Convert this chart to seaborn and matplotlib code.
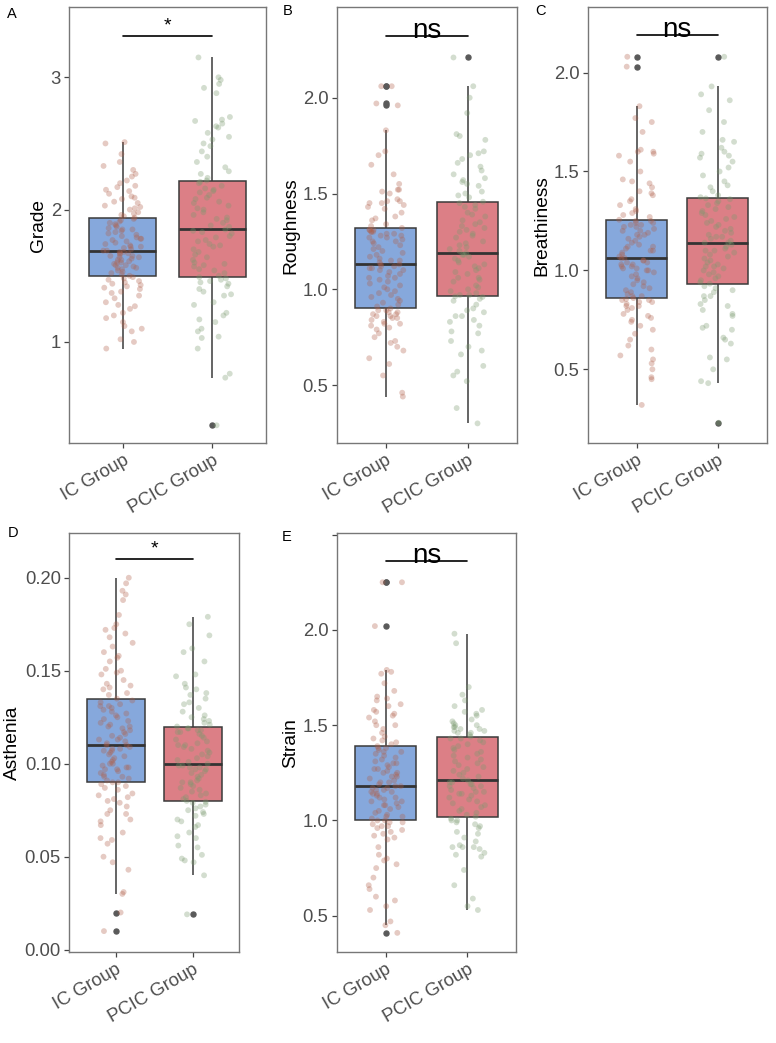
import numpy as np
import pandas as pd
import matplotlib
matplotlib.use("Agg")
import matplotlib.pyplot as plt
import seaborn as sns

# ---------------- data ----------------
groups = ["IC Group", "PCIC Group"]
metrics = ["Grade", "Roughness", "Breathiness", "Asthenia", "Strain"]
panel_letters = ["A", "B", "C", "D", "E"]
significance = ["*", "ns", "ns", "*", "ns"]
bracket_y = [3.312, 2.322, 2.19, 0.2099, 2.362]

grade_ic = [0.95, 1.00, 1.02, 1.08, 1.10, 1.12, 1.15, 1.18, 1.20, 1.22, 1.25, 1.27, 1.28, 1.30,
            1.33, 1.35, 1.37, 1.38, 1.40, 1.41, 1.42, 1.43, 1.44, 1.45, 1.46, 1.47, 1.48, 1.49,
            1.50,
            1.51, 1.52, 1.53, 1.54, 1.55, 1.56, 1.56, 1.57, 1.58, 1.58, 1.59, 1.60, 1.60, 1.61,
            1.62, 1.62, 1.63, 1.64, 1.64, 1.65, 1.65, 1.66, 1.67, 1.67, 1.68, 1.68, 1.69,
            1.69,
            1.70, 1.71, 1.72, 1.72, 1.73, 1.74, 1.75, 1.76, 1.77, 1.78, 1.78, 1.79, 1.80, 1.81,
            1.82, 1.83, 1.84, 1.85, 1.85, 1.86, 1.87, 1.88, 1.89, 1.90, 1.91, 1.92, 1.93,
            1.94,
            1.95, 1.96, 1.97, 1.98, 2.00, 2.01, 2.02, 2.03, 2.05, 2.06, 2.08, 2.09, 2.10, 2.12,
            2.14, 2.15, 2.17, 2.18, 2.20, 2.22, 2.25, 2.27, 2.30, 2.33, 2.36, 2.42, 2.50, 2.51]
grade_pcic = [0.37, 0.73, 0.76, 0.95, 1.03, 1.04, 1.08, 1.10, 1.15, 1.17, 1.20, 1.22, 1.28, 1.30,
              1.35, 1.36, 1.38, 1.40, 1.42, 1.44, 1.45, 1.46, 1.47, 1.48,
              1.49,
              1.50, 1.52, 1.54, 1.55, 1.57, 1.58, 1.59, 1.60, 1.62, 1.64, 1.66, 1.68, 1.70, 1.72,
              1.73, 1.74, 1.76, 1.77, 1.79, 1.80, 1.82, 1.83, 1.84,
              1.85,
              1.87, 1.88, 1.90, 1.92, 1.93, 1.94, 1.96, 1.98, 2.00, 2.01, 2.03, 2.05, 2.06, 2.08,
              2.09, 2.11, 2.13, 2.14, 2.15, 2.16, 2.18, 2.20, 2.21,
              2.22,
              2.24, 2.27, 2.29, 2.32, 2.36, 2.40, 2.44, 2.48, 2.50, 2.53, 2.55, 2.58, 2.62, 2.63,
              2.65, 2.67, 2.68, 2.70, 2.88, 2.92, 2.95, 2.98, 3.00, 3.15]

rough_ic = [0.44, 0.46, 0.55, 0.61, 0.64, 0.68, 0.70, 0.72, 0.73, 0.75, 0.77, 0.79, 0.80, 0.81,
            0.82, 0.82, 0.83, 0.84, 0.85, 0.85, 0.86, 0.86, 0.87, 0.87, 0.88, 0.88, 0.89, 0.89,
            0.90,
            0.91, 0.92, 0.93, 0.94, 0.95, 0.96, 0.97, 0.98, 0.99, 1.00, 1.01, 1.02, 1.03, 1.04,
            1.05, 1.06, 1.06, 1.07, 1.08, 1.09, 1.10, 1.10, 1.11, 1.11, 1.12, 1.12, 1.13,
            1.13,
            1.14, 1.15, 1.15, 1.16, 1.17, 1.18, 1.19, 1.20, 1.21, 1.22, 1.23, 1.24, 1.25, 1.25,
            1.26, 1.27, 1.27, 1.28, 1.28, 1.29, 1.29, 1.30, 1.30, 1.30, 1.31, 1.31, 1.31,
            1.32,
            1.33, 1.34, 1.36, 1.37, 1.38, 1.40, 1.42, 1.43, 1.44, 1.45, 1.45, 1.46, 1.46, 1.47,
            1.50, 1.51, 1.52, 1.52, 1.55, 1.60, 1.65, 1.70, 1.72, 1.83, 1.96, 1.97, 2.06, 2.06]
rough_pcic = [0.30, 0.38, 0.52, 0.55, 0.57, 0.60, 0.66, 0.68, 0.70, 0.73, 0.77, 0.78, 0.81, 0.83,
              0.84, 0.86, 0.86, 0.88, 0.89, 0.90, 0.92, 0.94, 0.95, 0.96,
              0.963,
              0.97, 0.97, 0.98, 0.99, 1.00, 1.01, 1.02, 1.04, 1.05, 1.06, 1.06, 1.08, 1.09, 1.10,
              1.11, 1.12, 1.13, 1.14, 1.15, 1.16, 1.17, 1.18, 1.18,
              1.19,
              1.20, 1.21, 1.22, 1.23, 1.24, 1.25, 1.27, 1.28, 1.29, 1.30, 1.31, 1.32, 1.33, 1.34,
              1.35, 1.36, 1.38, 1.39, 1.40, 1.42, 1.43, 1.44, 1.45,
              1.457,
              1.48, 1.49, 1.50, 1.51, 1.54, 1.55, 1.56, 1.57, 1.58, 1.60, 1.62, 1.64, 1.66, 1.68,
              1.70, 1.71, 1.72, 1.78, 1.80, 1.81, 1.92, 2.00, 2.06, 2.21]

breath_ic = [0.32, 0.45, 0.46, 0.50, 0.53, 0.55, 0.57, 0.60, 0.62, 0.65, 0.68, 0.70, 0.72, 0.74,
             0.75, 0.76, 0.77, 0.78, 0.80, 0.81, 0.82, 0.82, 0.83, 0.84, 0.84, 0.85, 0.85, 0.855,
             0.86,
             0.87, 0.87, 0.88, 0.89, 0.90, 0.91, 0.92, 0.93, 0.94, 0.95, 0.96, 0.97, 0.98, 0.99,
             1.00, 1.00, 1.01, 1.01, 1.02, 1.02, 1.03, 1.03, 1.04, 1.04, 1.05, 1.05, 1.06,
             1.063,
             1.07, 1.08, 1.09, 1.10, 1.10, 1.11, 1.12, 1.12, 1.13, 1.14, 1.15, 1.16, 1.17, 1.18,
             1.18, 1.19, 1.20, 1.20, 1.21, 1.22, 1.22, 1.23, 1.23, 1.24, 1.24, 1.25, 1.25,
             1.256,
             1.27, 1.28, 1.29, 1.30, 1.31, 1.33, 1.35, 1.36, 1.38, 1.39, 1.40, 1.42, 1.44, 1.45,
             1.46, 1.50, 1.55, 1.58, 1.59, 1.60, 1.60, 1.61, 1.70, 1.75, 1.77, 1.83, 2.03, 2.08]
breath_pcic = [0.23, 0.43, 0.44, 0.50, 0.55, 0.56, 0.63, 0.65, 0.66, 0.70, 0.71, 0.72, 0.77, 0.78,
               0.80, 0.82, 0.83, 0.85, 0.87, 0.87, 0.89, 0.90, 0.91, 0.92,
               0.933,
               0.94, 0.95, 0.96, 0.97, 0.98, 0.99, 1.00, 1.01, 1.02, 1.02, 1.03, 1.04, 1.05, 1.06,
               1.07, 1.08, 1.09, 1.10, 1.10, 1.11, 1.12, 1.13, 1.14,
               1.141,
               1.15, 1.16, 1.17, 1.17, 1.18, 1.19, 1.20, 1.21, 1.22, 1.23, 1.24, 1.25, 1.26, 1.27,
               1.28, 1.29, 1.30, 1.31, 1.32, 1.33, 1.34, 1.35, 1.36,
               1.364,
               1.37, 1.38, 1.40, 1.42, 1.43, 1.45, 1.48, 1.50, 1.52, 1.55, 1.57, 1.58, 1.59, 1.60,
               1.62, 1.65, 1.66, 1.70, 1.75, 1.81, 1.86, 1.89, 1.93, 2.08]

asth_ic = [0.010, 0.020, 0.030, 0.031, 0.043, 0.047, 0.050, 0.057, 0.059, 0.060, 0.063, 0.067,
           0.069, 0.070, 0.073, 0.073, 0.075, 0.077, 0.079, 0.080, 0.081, 0.082, 0.083, 0.084,
           0.086, 0.087, 0.088, 0.089,
           0.090,
           0.090, 0.091, 0.092, 0.093, 0.093, 0.094, 0.095, 0.096, 0.097, 0.097, 0.098, 0.098,
           0.099, 0.100, 0.100, 0.101, 0.102, 0.103, 0.104, 0.105, 0.106, 0.107, 0.107, 0.108,
           0.108, 0.109, 0.110,
           0.110,
           0.111, 0.112, 0.113, 0.113, 0.114, 0.115, 0.116, 0.117, 0.118, 0.119, 0.120, 0.120,
           0.121, 0.122, 0.123, 0.124, 0.125, 0.126, 0.127, 0.128, 0.129, 0.130, 0.131, 0.131,
           0.132, 0.133, 0.134,
           0.135,
           0.137, 0.138, 0.140, 0.141, 0.142, 0.143, 0.145, 0.148, 0.149, 0.150, 0.151, 0.155,
           0.157, 0.158, 0.160, 0.163, 0.165, 0.168, 0.170, 0.172, 0.173, 0.175, 0.180, 0.188,
           0.191, 0.193, 0.197, 0.200]
asth_pcic = [0.019, 0.040, 0.047, 0.048, 0.049, 0.051, 0.055, 0.056, 0.060, 0.061, 0.063, 0.066,
             0.067, 0.069, 0.070, 0.072, 0.073, 0.074, 0.075, 0.076, 0.077, 0.078, 0.079, 0.0795,
             0.080,
             0.081, 0.082, 0.083, 0.084, 0.085, 0.086, 0.087, 0.088, 0.089, 0.090, 0.090, 0.091,
             0.092, 0.093, 0.094, 0.095, 0.096, 0.097, 0.097, 0.098, 0.098, 0.099, 0.099,
             0.100,
             0.101, 0.102, 0.103, 0.104, 0.105, 0.106, 0.107, 0.108, 0.109, 0.110, 0.110, 0.111,
             0.112, 0.113, 0.114, 0.115, 0.116, 0.117, 0.117, 0.118, 0.118, 0.119, 0.119,
             0.120,
             0.121, 0.122, 0.123, 0.124, 0.125, 0.126, 0.128, 0.130, 0.132, 0.133, 0.135, 0.137,
             0.138, 0.140, 0.141, 0.143, 0.147, 0.148, 0.155, 0.160, 0.162, 0.169, 0.175, 0.179]

strain_ic = [0.41, 0.45, 0.47, 0.53, 0.55, 0.58, 0.60, 0.64, 0.66, 0.70, 0.75, 0.77, 0.79, 0.80,
             0.82, 0.86, 0.90, 0.91, 0.92, 0.93, 0.94, 0.95, 0.96, 0.97, 0.97, 0.98, 0.99, 0.99,
             1.00,
             1.00, 1.01, 1.02, 1.02, 1.03, 1.04, 1.05, 1.06, 1.07, 1.08, 1.08, 1.09, 1.10, 1.10,
             1.11, 1.12, 1.12, 1.13, 1.14, 1.14, 1.15, 1.15, 1.16, 1.16, 1.17, 1.17, 1.18,
             1.18,
             1.19, 1.20, 1.20, 1.21, 1.22, 1.23, 1.23, 1.24, 1.25, 1.25, 1.26, 1.27, 1.27, 1.28,
             1.29, 1.30, 1.30, 1.31, 1.32, 1.33, 1.34, 1.35, 1.36, 1.36, 1.37, 1.38, 1.38,
             1.39,
             1.40, 1.41, 1.42, 1.43, 1.44, 1.46, 1.48, 1.50, 1.50, 1.52, 1.54, 1.55, 1.56, 1.57,
             1.58, 1.60, 1.61, 1.63, 1.64, 1.65, 1.68, 1.72, 1.77, 1.78, 1.79, 2.02, 2.25, 2.25]
strain_pcic = [0.53, 0.55, 0.59, 0.66, 0.74, 0.81, 0.82, 0.83, 0.85, 0.86, 0.86, 0.86, 0.87, 0.89,
               0.91, 0.93, 0.94, 0.96, 0.97, 0.98, 0.99, 1.00, 1.00, 1.01,
               1.02,
               1.03, 1.04, 1.05, 1.06, 1.07, 1.08, 1.09, 1.10, 1.11, 1.12, 1.13, 1.14, 1.14, 1.15,
               1.15, 1.16, 1.17, 1.18, 1.18, 1.19, 1.19, 1.20, 1.20,
               1.21,
               1.22, 1.23, 1.24, 1.25, 1.26, 1.27, 1.28, 1.29, 1.30, 1.31, 1.32, 1.33, 1.34, 1.35,
               1.36, 1.37, 1.38, 1.39, 1.40, 1.41, 1.42, 1.43, 1.43,
               1.44,
               1.45, 1.46, 1.46, 1.47, 1.47, 1.48, 1.48, 1.49, 1.49, 1.50, 1.50, 1.51, 1.52, 1.53,
               1.55, 1.56, 1.57, 1.58, 1.60, 1.63, 1.66, 1.70, 1.93, 1.98]

panel_data = [(grade_ic, grade_pcic), (rough_ic, rough_pcic), (breath_ic, breath_pcic),
              (asth_ic, asth_pcic), (strain_ic, strain_pcic)]

y_ticks = [[1, 2, 3], [0.5, 1.0, 1.5, 2.0], [0.5, 1.0, 1.5, 2.0],
           [0.00, 0.05, 0.10, 0.15, 0.20], [0.5, 1.0, 1.5, 2.0, 2.5]]
y_ticklabels = [["1", "2", "3"], ["0.5", "1.0", "1.5", "2.0"], ["0.5", "1.0", "1.5", "2.0"],
                ["0.00", "0.05", "0.10", "0.15", "0.20"], ["0.5", "1.0", "1.5", "2.0", ""]]
y_limits = [(0.234, 3.529), (0.196, 2.472), (0.126, 2.330), (-0.0014, 0.2239), (0.308, 2.507)]

# ---------------- style ----------------
box_colors = {"IC Group": "#86A8DC", "PCIC Group": "#DC7F86"}
pt_colors = {"IC Group": "#B0604A", "PCIC Group": "#7A9A6E"}

sns.set_theme(style="white")
plt.rcParams["font.family"] = ["Liberation Sans", "DejaVu Sans"]

W, H = 776, 1043
fig = plt.figure(figsize=(W / 100, H / 100), dpi=100)

rects_px = [(69.3, 7.3, 266.0, 443.3),
            (336.7, 7.3, 516.7, 443.3),
            (587.7, 7.3, 766.7, 443.3),
            (69.3, 533.3, 239.3, 952.3),
            (336.7, 533.3, 516.0, 952.3)]
letter_px = [(7, 18), (283, 15), (535, 15), (8, 537), (282, 541)]

np.random.seed(7)
for i, (ic, pc) in enumerate(panel_data):
    l, t, r, b = rects_px[i]
    ax = fig.add_axes([l / W, 1 - b / H, (r - l) / W, (b - t) / H])
    df = pd.DataFrame({"group": [groups[0]] * len(ic) + [groups[1]] * len(pc),
                       "value": list(ic) + list(pc)})
    sns.boxplot(data=df, x="group", y="value", hue="group", order=groups, hue_order=groups,
                palette=box_colors, saturation=1, width=0.75, linewidth=1.1,
                linecolor="#3a3a3a", showcaps=False, fliersize=3.6,
                flierprops=dict(marker="o", markerfacecolor="#5a5a5a",
                                markeredgecolor="#5a5a5a"),
                medianprops=dict(linewidth=2.0, color="#333333"),
                legend=False, ax=ax)
    sns.stripplot(data=df, x="group", y="value", hue="group", order=groups, hue_order=groups,
                  palette=pt_colors, jitter=0.22, size=4.2, alpha=0.33, linewidth=0,
                  legend=False, ax=ax, zorder=3)

    ax.set_xlim(-0.6, 1.6)
    ax.set_ylim(*y_limits[i])
    ax.set_yticks(y_ticks[i])
    ax.set_yticklabels(y_ticklabels[i])
    ax.set_xlabel("")
    ax.set_ylabel(metrics[i], fontsize=13.8, color="black", labelpad=2.5)
    for sp in ax.spines.values():
        sp.set_visible(True)
        sp.set_color("#777777")
        sp.set_linewidth(1.0)
    ax.tick_params(axis="both", which="major", length=3.5, width=0.9, color="#444444",
                   labelsize=13.3, labelcolor="#4d4d4d", direction="out",
                   bottom=True, left=True, pad=2.5)
    plt.setp(ax.get_xticklabels(), rotation=30, ha="right", va="top",
             rotation_mode="anchor")

    # significance bracket
    by = bracket_y[i]
    ax.plot([0, 1], [by, by], color="black", lw=1.2, clip_on=False, zorder=5)
    if significance[i] == "*":
        ax.annotate("*", xy=(0.5, by), xytext=(0, 4), textcoords="offset points",
                    ha="center", va="baseline", fontsize=14, color="black")
    else:
        ax.annotate("ns", xy=(0.5, by), xytext=(0, -1.7), textcoords="offset points",
                    ha="center", va="baseline", fontsize=20, color="black")

    lx, ly = letter_px[i]
    fig.text(lx / W, 1 - ly / H, panel_letters[i], fontsize=10.5, color="black",
             ha="left", va="baseline")

fig.savefig("out.png", dpi=100)
